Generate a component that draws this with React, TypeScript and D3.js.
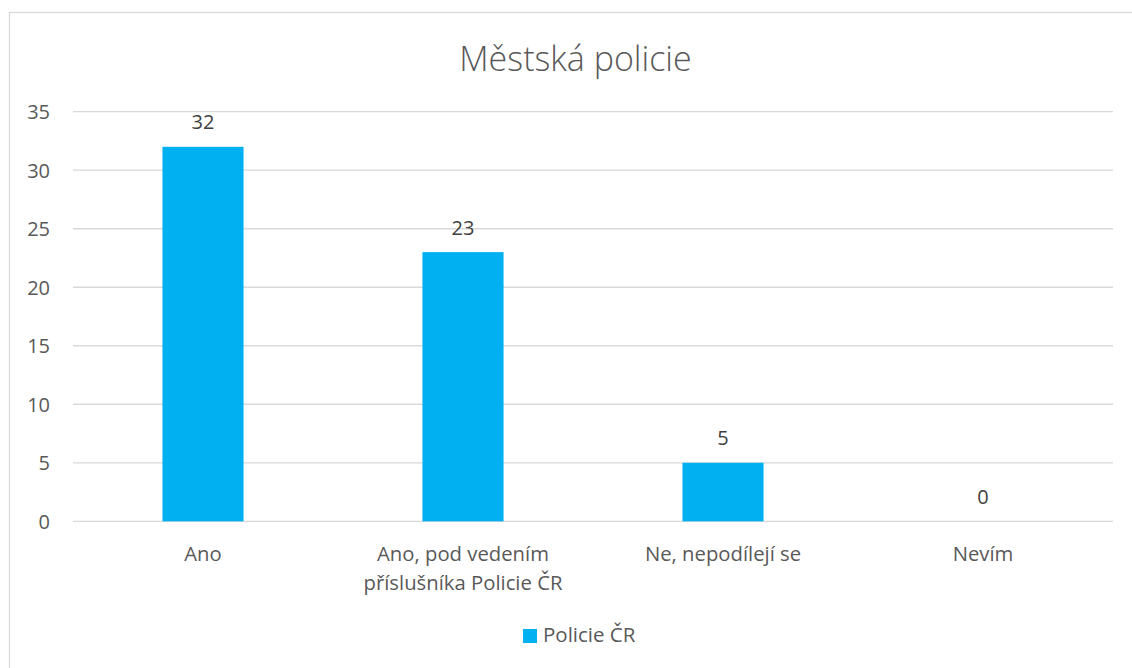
import React, { useEffect, useRef } from "react";
import * as d3 from "d3";

const title = "Městská policie";
const seriesName = "Policie ČR";
const categories = ["Ano", "Ano, pod vedením příslušníka Policie ČR", "Ne, nepodílejí se", "Nevím"];
const values = [32, 23, 5, 0];
const yTicks = [0, 5, 10, 15, 20, 25, 30, 35];

const W = 1132;
const H = 668;
const FONT = "'Open Sans', 'Noto Sans', sans-serif";
const TEXT = "#595959";
const GRID = "#D9D9D9";
const BAR = "#00B0F0";

export default function App() {
  const ref = useRef<SVGSVGElement>(null);

  useEffect(() => {
    const svg = d3.select(ref.current);
    svg.selectAll("*").remove();

    // chart border
    svg.append("rect")
      .attr("x", 9.5).attr("y", 12.5)
      .attr("width", W + 20).attr("height", H + 20)
      .attr("fill", "#fff").attr("stroke", GRID).attr("stroke-width", 1.3);

    const x = d3.scaleBand<string>()
      .domain(categories)
      .range([73, 1113])
      .paddingInner(0.688)
      .paddingOuter(0.344);
    const y = d3.scaleLinear().domain([0, 35]).range([521.3, 111.7]);

    // title
    svg.append("text")
      .attr("x", 575.5).attr("y", 71)
      .attr("text-anchor", "middle")
      .attr("font-family", FONT).attr("font-size", 34).attr("font-weight", 300)
      .attr("fill", TEXT)
      .text(title);

    // gridlines
    svg.append("g").selectAll("line").data(yTicks).join("line")
      .attr("x1", 73).attr("x2", 1113)
      .attr("y1", (d) => y(d)).attr("y2", (d) => y(d))
      .attr("stroke", GRID).attr("stroke-width", 1.3);

    // y tick labels
    svg.append("g").selectAll("text").data(yTicks).join("text")
      .attr("x", 50).attr("y", (d) => y(d) + 7.3)
      .attr("text-anchor", "end")
      .attr("font-family", FONT).attr("font-size", 20)
      .attr("fill", TEXT)
      .text((d) => String(d));

    // bars
    svg.append("g").selectAll("rect").data(values).join("rect")
      .attr("x", (_, i) => x(categories[i])!)
      .attr("width", x.bandwidth())
      .attr("y", (d) => y(d))
      .attr("height", (d) => y(0) - y(d))
      .attr("fill", BAR);

    // data labels
    svg.append("g").selectAll("text").data(values).join("text")
      .attr("x", (_, i) => x(categories[i])! + x.bandwidth() / 2)
      .attr("y", (d) => y(d) - 17.5)
      .attr("text-anchor", "middle")
      .attr("font-family", FONT).attr("font-size", 20)
      .attr("fill", "#404040")
      .text((d) => String(d));

    // category labels with wrapping
    const maxW = 235;
    const catG = svg.append("g");
    categories.forEach((c) => {
      const cx = x(c)! + x.bandwidth() / 2;
      const t = catG.append("text")
        .attr("x", cx).attr("y", 561)
        .attr("text-anchor", "middle")
        .attr("font-family", FONT).attr("font-size", 20.3)
        .attr("fill", TEXT);
      const words = c.split(" ");
      let line: string[] = [];
      let lineNo = 0;
      let tspan = t.append("tspan").attr("x", cx).attr("y", 561);
      words.forEach((w) => {
        line.push(w);
        tspan.text(line.join(" "));
        if ((tspan.node() as SVGTextContentElement).getComputedTextLength() > maxW && line.length > 1) {
          line.pop();
          tspan.text(line.join(" "));
          line = [w];
          lineNo += 1;
          tspan = t.append("tspan").attr("x", cx).attr("y", 561 + lineNo * 29).text(w);
        }
      });
    });

    // legend
    svg.append("rect")
      .attr("x", 523).attr("y", 629).attr("width", 14).attr("height", 14)
      .attr("fill", BAR);
    svg.append("text")
      .attr("x", 543).attr("y", 641.7)
      .attr("font-family", FONT).attr("font-size", 20.5)
      .attr("fill", TEXT)
      .text(seriesName);
  }, []);

  return (
    <svg
      ref={ref}
      width={W}
      height={H}
      style={{ position: "absolute", left: 0, top: 0, display: "block" }}
    />
  );
}
